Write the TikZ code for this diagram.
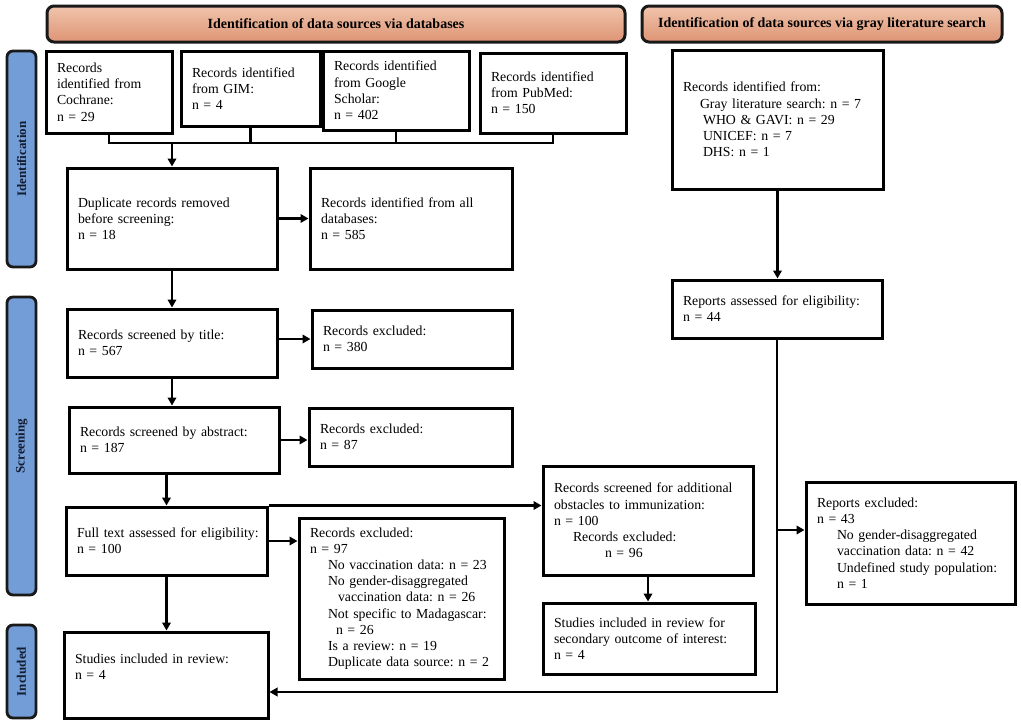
\documentclass[tikz,border=0pt]{standalone}
\usepackage{fontspec}
\setmainfont{Liberation Serif}
\usetikzlibrary{arrows.meta}
\frenchspacing
\newcommand\bodyfont{\fontsize{13.8}{16.2}\selectfont}
\newcommand\headfont{\fontsize{14}{16}\selectfont\bfseries}
\newcommand\sidefont{\fontsize{13}{15}\selectfont\bfseries}
\definecolor{hdtop}{RGB}{240,196,172}
\definecolor{hdbot}{RGB}{222,148,116}
\definecolor{sideblue}{RGB}{114,157,215}
\definecolor{edgecol}{RGB}{25,25,25}
\definecolor{sidetext}{RGB}{20,28,48}
\newcommand\mybox[6]{%
 \pgfmathsetmacro\bxw{#4-#2}\pgfmathsetmacro\bxh{#5-#3}\pgfmathsetmacro\bxt{#4-#2-22}%
 \pgfmathsetmacro\bxx{(#2+#4)/2}\pgfmathsetmacro\bxy{(#3+#5)/2}%
 \node[box, minimum width=\bxw pt, minimum height=\bxh pt, text width=\bxt pt] (#1) at (\bxx,\bxy) {#6};}
\tikzset{
 box/.style={draw=black, line width=3pt, fill=white, inner xsep=11pt, inner ysep=2pt, align=left, font=\bodyfont},
 conn/.style={line width=2.6pt},
 arr/.style={conn, -{Triangle[length=8pt,width=8.5pt]}},
 head/.style={draw=edgecol, line width=3pt, rounded corners=7pt, top color=hdtop, bottom color=hdbot, font=\headfont},
 side/.style={draw=edgecol, line width=2.8pt, rounded corners=6pt, fill=sideblue, font=\sidefont, text=sidetext}
}
\begin{document}
\begin{tikzpicture}[x=1pt,y=-1pt]
\useasboundingbox (0,0) rectangle (1021,723);
% headers
\node[head, minimum width=578pt, minimum height=36pt] (h1) at (336,24) {Identification of data sources via databases};
\node[head, minimum width=360pt, minimum height=36pt] (h2) at (822,24) {Identification of data sources via gray literature search};
% side labels
\node[side, rotate=90, minimum width=216pt, minimum height=29pt] (s1) at (21.5,159) {Identification};
\node[side, rotate=90, minimum width=298pt, minimum height=29pt] (s2) at (21.5,446) {Screening};
\node[side, rotate=90, minimum width=93pt, minimum height=29pt] (s3) at (21.5,671.5) {Included};
% boxes
\mybox{coch}{46}{51}{172}{133}{Records\\identified from\\Cochrane:\\n = 29}
\mybox{gim}{181}{51}{320}{126}{Records identified\\from GIM:\\n = 4}
\mybox{goo}{323}{51}{469}{130}{Records identified\\from Google\\Scholar:\\n = 402}
\mybox{pub}{480}{53}{626}{133}{Records identified\\from PubMed:\\n = 150}
\mybox{dup}{67}{168}{277}{269}{Duplicate records removed\\before screening:\\n = 18}
\mybox{alldb}{310}{168}{512}{269}{Records identified from all\\databases:\\n = 585}
\mybox{title}{67}{309}{277}{377}{Records screened by title:\\n = 567}
\mybox{exa}{312}{310}{512}{368}{Records excluded:\\n = 380}
\mybox{abs}{69}{407}{279}{473}{Records screened by abstract:\\n = 187}
\mybox{exb}{309}{408}{512}{466}{Records excluded:\\n = 87}
\mybox{full}{66}{507}{267}{575}{\mbox{Full text assessed for eligibility:}\\n = 100}
\mybox{exc}{299}{518}{504}{679}{Records excluded:\\n = 97\\
\hspace*{18pt}No vaccination data: n = 23\\
\hspace*{18pt}No gender-disaggregated\\
\hspace*{28pt}vaccination data: n = 26\\
\hspace*{18pt}\mbox{Not specific to Madagascar:}\\
\hspace*{26pt}n = 26\\
\hspace*{18pt}Is a review: n = 19\\
\hspace*{18pt}\mbox{Duplicate data source: n = 2}}
\mybox{incl}{64}{632}{268}{718}{Studies included in review:\\n = 4\\\mbox{}}
\mybox{add}{543}{466}{753}{575}{\mbox{Records screened for additional}\\obstacles to immunization:\\n = 100\\
\hspace*{19pt}Records excluded:\\
\hspace*{51pt}n = 96}
\mybox{sec}{543}{603}{755}{674}{Studies included in review for\\\mbox{secondary outcome of interest:}\\n = 4}
\mybox{gray}{672}{50}{883}{189}{Records identified from:\\
\hspace*{17pt}\mbox{Gray literature search: n = 7}\\
\hspace*{20pt}WHO \& GAVI: n = 29\\
\hspace*{20pt}UNICEF: n = 7\\
\hspace*{20pt}DHS: n = 1}
\mybox{rep}{672}{280}{882}{338}{\mbox{Reports assessed for eligibility:}\\n = 44}
\mybox{repx}{806}{482}{1015}{604}{Reports excluded:\\n = 43\\
\hspace*{20pt}No gender-disaggregated\\
\hspace*{20pt}vaccination data: n = 42\\
\hspace*{20pt}\mbox{Undefined study population:}\\
\hspace*{20pt}n = 1}
% connectors
\coordinate (br) at (172,143);
\draw[conn] (coch.south) -- (coch.south |- br) -- (pub.south |- br) -- (pub.south);
\draw[conn] (gim.south) -- (gim.south |- br);
\draw[conn] (goo.south) -- (goo.south |- br);
\draw[arr] (br) -- (dup.north);
\draw[arr] (dup.east) -- (alldb.west);
\draw[arr] (dup.south) -- (title.north);
\draw[arr] (title.east |- exa.west) -- (exa.west);
\draw[arr] (title.south) -- (title.south |- abs.north);
\draw[arr] (abs.east) -- (abs.east -| exb.west);
\draw[arr] (abs.south -| full.north) -- (full.north);
\draw[arr] (full.north east) -- (full.north east -| add.west);
\draw[arr] (full.east) -- (full.east -| exc.west);
\draw[arr] (full.south) -- (full.south |- incl.north);
\draw[arr] (add.south) -- (add.south |- sec.north);
\draw[arr] (gray.south) -- (gray.south |- rep.north);
\coordinate (cturn) at (777,692);
\coordinate (cbr) at (777,530);
\draw[arr] (rep.south) -- (rep.south |- cturn) -- (cturn -| incl.east);
\draw[arr] (cbr) -- (cbr -| repx.west);
\end{tikzpicture}
\end{document}
